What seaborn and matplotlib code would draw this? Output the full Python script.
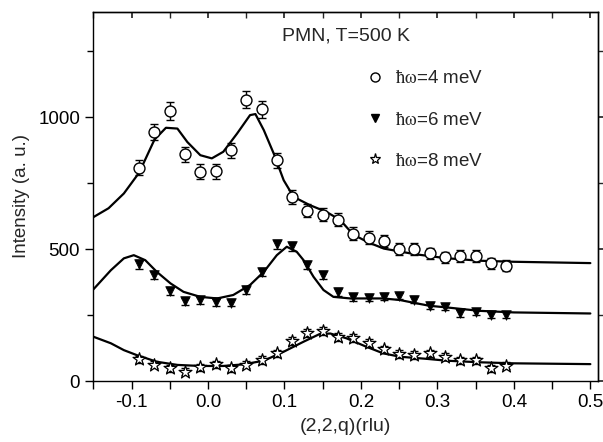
import numpy as np
import pandas as pd
import matplotlib
matplotlib.use("Agg")
import matplotlib.pyplot as plt
from matplotlib.ticker import MultipleLocator
from matplotlib.lines import Line2D
import seaborn as sns

# ---- data ----
q_pts = [-0.09, -0.07, -0.05, -0.03, -0.01, 0.01, 0.03, 0.05, 0.07, 0.09, 0.11, 0.13,
         0.15, 0.17, 0.19, 0.21, 0.23, 0.25, 0.27, 0.29, 0.31, 0.33, 0.35, 0.37, 0.39]

i_4mev = [808, 944, 1023, 860, 793, 795, 874, 1067, 1030, 836, 698, 645,
          631, 612, 559, 544, 532, 500, 500, 484, 469, 475, 473, 447, 437]
e_4mev = [28, 30, 33, 29, 28, 28, 29, 33, 32, 29, 26, 25,
          25, 24, 23, 23, 23, 22, 22, 22, 21, 22, 22, 21, 21]

i_6mev = [442, 401, 341, 303, 306, 299, 297, 345, 413, 518, 511, 439,
          401, 338, 317, 316, 320, 322, 308, 286, 281, 256, 262, 250, 250]
e_6mev = [16, 15, 14, 13, 13, 13, 13, 14, 15, 17, 17, 15,
          15, 14, 13, 13, 13, 13, 13, 12, 12, 12, 12, 12, 12]

i_8mev = [82, 61, 48, 35, 52, 64, 48, 61, 80, 105, 150, 181,
          190, 168, 162, 143, 120, 102, 98, 105, 92, 79, 79, 48, 58]
e_8mev = [14, 13, 13, 13, 13, 13, 13, 13, 14, 14, 15, 16,
          16, 15, 15, 15, 14, 14, 14, 14, 14, 13, 13, 13, 13]

# fitted curves
q_fit4 = [-0.15, -0.13, -0.11, -0.09, -0.07, -0.055, -0.04, -0.027, -0.01, 0.005, 0.02,
          0.038, 0.055, 0.062, 0.073, 0.086, 0.099, 0.112, 0.133, 0.155, 0.173, 0.19,
          0.21, 0.23, 0.27, 0.31, 0.355, 0.40, 0.50]
i_fit4 = [621, 655, 711, 790, 915, 960, 957, 906, 856, 844, 869,
          938, 1008, 1012, 951, 862, 761, 698, 667, 641, 610, 555,
          525, 502, 481, 466, 456, 452, 447]

q_fit6 = [-0.15, -0.127, -0.11, -0.097, -0.082, -0.067, -0.049, -0.032, -0.01, 0.012,
          0.033, 0.055, 0.073, 0.09, 0.103, 0.116, 0.125, 0.138, 0.151, 0.164, 0.186,
          0.207, 0.229, 0.251, 0.27, 0.29, 0.312, 0.355, 0.40, 0.50]
i_fit6 = [347, 420, 465, 477, 458, 414, 370, 338, 319, 313,
          326, 364, 414, 477, 509, 490, 458, 395, 345, 319, 313,
          313, 313, 307, 296, 285, 279, 266, 260, 256]

q_fit8 = [-0.15, -0.127, -0.11, -0.093, -0.067, -0.04, -0.01, 0.02, 0.046, 0.073, 0.099,
          0.125, 0.146, 0.16, 0.181, 0.207, 0.229, 0.251, 0.286, 0.312, 0.355, 0.40, 0.50]
i_fit8 = [168, 143, 117, 98, 73, 61, 57, 57, 63, 77, 111,
          149, 178, 180, 162, 130, 105, 92, 84, 77, 71, 67, 64]

labels = [r"$\mathrm{\hbar\omega}$=4 meV", r"$\mathrm{\hbar\omega}$=6 meV",
          r"$\mathrm{\hbar\omega}$=8 meV"]

# ---- style ----
sns.set_theme(style="ticks")
plt.rcParams["font.family"] = ["Liberation Sans", "DejaVu Sans"]
plt.rcParams["mathtext.fontset"] = "stix"
plt.rcParams["axes.linewidth"] = 1.0

fig = plt.figure(figsize=(6.03, 4.42), dpi=100)
ax = fig.add_axes([0.1547, 0.138, 0.837, 0.8355])

# curves
for qf, fi in [(q_fit4, i_fit4), (q_fit6, i_fit6), (q_fit8, i_fit8)]:
    sns.lineplot(x=qf, y=fi, ax=ax, color="black", linewidth=1.6,
                 estimator=None, sort=False, zorder=2)

# error bars
for ii, ee in [(i_4mev, e_4mev), (i_6mev, e_6mev), (i_8mev, e_8mev)]:
    ax.errorbar(q_pts, ii, yerr=ee, fmt="none", ecolor="black",
                elinewidth=1.0, capsize=3.2, capthick=1.0, zorder=3)

# markers
sns.scatterplot(x=q_pts, y=i_4mev, ax=ax, marker="o", s=62, facecolor="white",
                edgecolor="black", linewidth=1.0, zorder=4)
sns.scatterplot(x=q_pts, y=i_6mev, ax=ax, marker="v", s=48, color="black",
                edgecolor="black", linewidth=0.5, zorder=4)
sns.scatterplot(x=q_pts, y=i_8mev, ax=ax, marker="*", s=95, facecolor="white",
                edgecolor="black", linewidth=0.9, zorder=4)

ax.set_xlim(-0.15, 0.51)
ax.set_ylim(0, 1400)

ax.xaxis.set_major_locator(MultipleLocator(0.1))
ax.xaxis.set_minor_locator(MultipleLocator(0.05))
ax.yaxis.set_major_locator(MultipleLocator(500))
ax.yaxis.set_minor_locator(MultipleLocator(250))
ax.xaxis.set_major_formatter(matplotlib.ticker.FuncFormatter(lambda v, p: f"{v:.1f}"))
ax.tick_params(which="both", direction="out", length=6, width=1.0,
               labelsize=13.5, colors="black", top=False, right=False)
ax.tick_params(axis="y", which="minor", length=4)

secx = ax.secondary_xaxis("top")
secx.xaxis.set_major_locator(MultipleLocator(0.1))
secx.xaxis.set_minor_locator(MultipleLocator(0.05))
secx.tick_params(which="both", direction="in", length=4, labeltop=False)

secy = ax.secondary_yaxis("right")
secy.yaxis.set_major_locator(MultipleLocator(500))
secy.yaxis.set_minor_locator(MultipleLocator(250))
secy.tick_params(which="both", direction="out", length=4, labelright=False)

for s in ax.spines.values():
    s.set_visible(True)
    s.set_color("black")

ax.set_xlabel("(2,2,q)(rlu)", fontsize=14, labelpad=5)
ax.set_ylabel("Intensity (a. u.)", fontsize=13.5, labelpad=6)

ax.text(0.5, 0.935, "PMN, T=500 K", transform=ax.transAxes, fontsize=14,
        ha="center", va="center")

handles = [
    Line2D([], [], linestyle="none", marker="o", markersize=6.5, markerfacecolor="white",
           markeredgecolor="black", markeredgewidth=1.0),
    Line2D([], [], linestyle="none", marker="v", markersize=5.5, color="black"),
    Line2D([], [], linestyle="none", marker="*", markersize=8, markerfacecolor="white",
           markeredgecolor="black", markeredgewidth=0.9),
]
ax.legend(handles, labels, loc="upper left", bbox_to_anchor=(0.524, 0.865),
          frameon=False, fontsize=13.5, labelspacing=1.25, handlelength=1.0,
          handletextpad=0.6, borderaxespad=0)

fig.savefig("out.png", dpi=100)
